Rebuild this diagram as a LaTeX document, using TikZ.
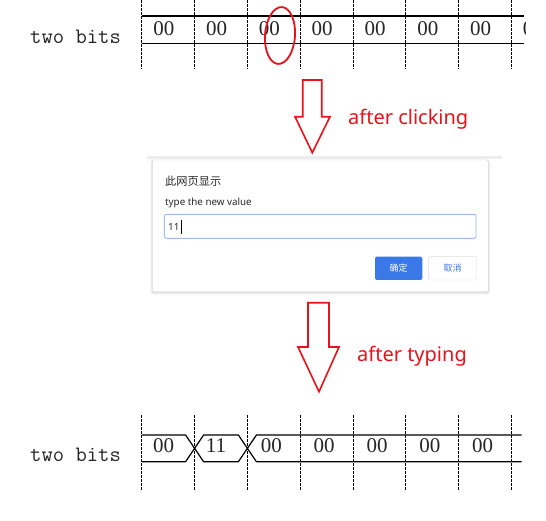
\documentclass[tikz,border=0pt]{standalone}
\usepackage{fontspec}
\newfontfamily\cjk{Noto Sans CJK SC}
\newfontfamily\uifont{Noto Sans}
\newfontfamily\digitfont{Liberation Serif}
\definecolor{arrowred}{RGB}{232,18,28}
\definecolor{btnblue}{RGB}{59,120,231}
\definecolor{inputblue}{RGB}{160,185,240}
\definecolor{uitext}{RGB}{40,40,40}
\begin{document}
\begin{tikzpicture}[x=1pt,y=-1pt,
  gridline/.style={black, line width=0.8pt, dash pattern=on 2.5pt off 1.5pt},
  wire/.style={black, line width=1.2pt},
  val/.style={text=black!85, font=\digitfont\fontsize{21}{21}\selectfont, inner sep=0pt, anchor=center},
  sig/.style={text=black!85, font=\ttfamily\fontsize{22}{22}\selectfont, inner sep=0pt, anchor=west},
  redarrow/.style={draw=arrowred, line width=1.6pt, line join=miter},
  redtxt/.style={text=arrowred, font=\uifont\fontsize{20}{20}\selectfont, inner sep=0pt, anchor=base west},
  uitxt/.style={text=uitext, inner sep=0pt, anchor=base west}]
\useasboundingbox (0,0) rectangle (546,520);
\fill[white] (0,0) rectangle (546,520);

% ---------- top waveform ----------
\foreach \i in {0,...,7} {
  \draw[gridline] ({141.8+52.8*\i},0) -- ({141.8+52.8*\i},68.3);
}
\draw[wire] (141.8,16) -- (524,16);
\draw[wire] (141.8,43.5) -- (524,43.5);
\node[sig] (sigA) at (30,37.3) {two bits};
\begin{scope}
  \clip (130,0) rectangle (525.5,80);
  \foreach \i/\n in {0/a0,1/a1,2/a2,3/a3,4/a4,5/a5,6/a6,7/a7} {
    \node[val] (\n) at ({163.8+52.8*\i},29) {00};
  }
\end{scope}
\draw[arrowred, line width=1.8pt, rotate around={-4:(280,35.5)}] (280,35.5) ellipse [x radius=15, y radius=28.5];

% ---------- arrow 1 ----------
\draw[redarrow] (302.7,80) -- (321.7,80) -- (321.7,116.7) -- (330,116.7) -- (312.3,152.7) -- (295,116.7) -- (302.7,116.7) -- cycle;
\node[redtxt] (click) at (348,124.5) {after clicking};

% ---------- dialog ----------
\fill[black!7] (147,156) rectangle (502,158.5);
\fill[black!6, rounded corners=3pt] (150.5,159.5) rectangle (490,294.5);
\fill[black!12, rounded corners=2.5pt] (151.5,160) rectangle (489.2,293);
\node[draw=black!14, fill=white, rounded corners=2pt, minimum width=336pt, minimum height=131.7pt, inner sep=0pt] (dlg) at (320.3,225.85) {};
\node[uitxt, font=\cjk\fontsize{11.2}{11.2}\selectfont] (title) at (165,185) {此网页显示};
\node[uitxt, font=\uifont\fontsize{9.8}{9.8}\selectfont] (prompt) at (165,205.5) {type the new value};
\node[draw=inputblue, line width=0.9pt, fill=white, rounded corners=2pt, minimum width=311.7pt, minimum height=24pt, inner sep=0pt] (input) at (320.15,226.3) {};
\node[uitxt, font=\uifont\fontsize{9.8}{9.8}\selectfont] (typed) at (168,230) {11};
\draw[black, line width=0.6pt] (typed.east) ++(1.2,-7) -- ++(0,14);
\node[fill=btnblue, rounded corners=1.5pt, minimum width=47.3pt, minimum height=23.3pt, inner sep=0pt, text=white, font=\cjk\fontsize{9}{9}\selectfont] (ok) at (398.7,268.3) {确定};
\node[draw=black!13, fill=white, rounded corners=1.5pt, minimum width=48.4pt, minimum height=23.3pt, inner sep=0pt, text=btnblue, font=\cjk\fontsize{9}{9}\selectfont] (cancel) at (452.5,268.3) {取消};

% ---------- arrow 2 ----------
\draw[redarrow] (308,302.7) -- (329,302.7) -- (329,347) -- (339,347) -- (319,391.7) -- (298,347) -- (308,347) -- cycle;
\node[redtxt] (typing) at (357,361) {after typing};

% ---------- bottom waveform ----------
\foreach \i in {0,...,7} {
  \draw[gridline] ({141.8+52.8*\i},415) -- ({141.8+52.8*\i},490.7);
}
\draw[wire, line join=round] (141.8,435) -- (185.6,435) -- (203.6,461.7) -- (238.4,461.7) -- (256.4,435) -- (521.5,435);
\draw[wire, line join=round] (141.8,461.7) -- (185.6,461.7) -- (203.6,435) -- (238.4,435) -- (256.4,461.7) -- (521.5,461.7);
\node[sig] (sigB) at (30,455) {two bits};
\node[val] (b0) at (163.5,445.5) {00};
\node[val] (b1) at (216,445.5) {11};
\foreach \i/\n in {2/b2,3/b3,4/b4,5/b5,6/b6} {
  \node[val] (\n) at ({163.8+52.8*\i+2},445.5) {00};
}
\end{tikzpicture}
\end{document}
